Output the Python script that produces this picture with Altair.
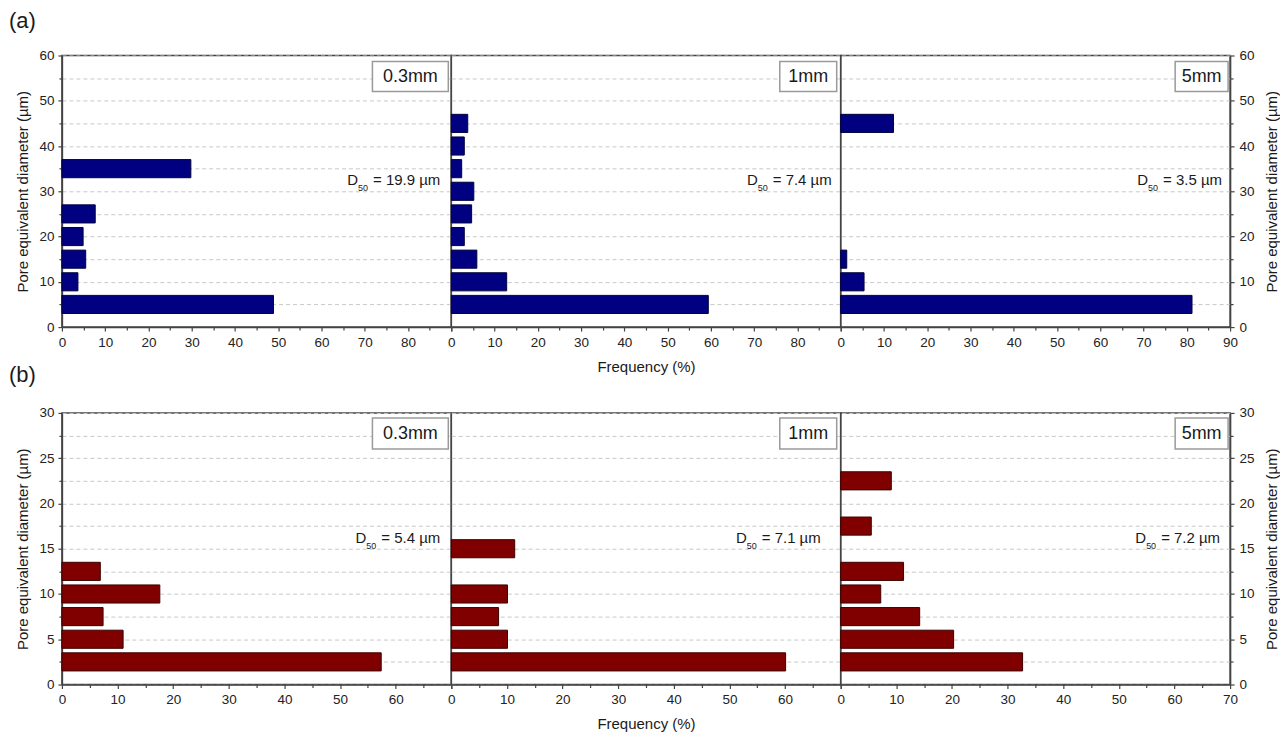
import altair as alt
import pandas as pd

# ---------------- data ----------------
panel_labels = ["0.3mm", "1mm", "5mm"]

# (a) top row: bins 5 µm wide
top_centers_03 = [5, 10, 15, 20, 25, 35]
top_freq_03 = [48.9, 3.7, 5.5, 4.9, 7.7, 29.8]
top_centers_1 = [5, 10, 15, 20, 25, 30, 35, 40, 45]
top_freq_1 = [59.4, 12.8, 5.9, 3.0, 4.7, 5.2, 2.4, 3.0, 3.8]
top_centers_5 = [5, 10, 15, 45]
top_freq_5 = [81.2, 5.4, 1.4, 12.2]
top_d50 = [19.9, 7.4, 3.5]

# (b) bottom row: bins 2.5 µm wide
bot_centers_03 = [2.5, 5, 7.5, 10, 12.5]
bot_freq_03 = [57.4, 11.0, 7.4, 17.6, 6.9]
bot_centers_1 = [2.5, 5, 7.5, 10, 15]
bot_freq_1 = [60.1, 10.1, 8.5, 10.1, 11.4]
bot_centers_5 = [2.5, 5, 7.5, 10, 12.5, 17.5, 22.5]
bot_freq_5 = [32.7, 20.3, 14.2, 7.2, 11.3, 5.5, 9.1]
bot_d50 = [5.4, 7.1, 7.2]

# ---------------- layout / style ----------------
FONT = "Liberation Sans"
PW, PH = 390, 272
AXC = "#444444"
TXT = "#1a1a1a"

# Arial / Liberation Sans advance widths (per 1000 em)
AW = {"D": 722, "=": 584, " ": 278, ".": 278, "µ": 576, "m": 833,
      "0": 556, "1": 556, "2": 556, "3": 556, "4": 556, "5": 556,
      "6": 556, "7": 556, "8": 556, "9": 556}


def tw(s, size):
    return sum(AW.get(c, 556) for c in s) / 1000.0 * size


BOX_X = [(311, 387), (329, 386), (335, 388)]
D50_RIGHT = {"top": [379, 381, 382], "bot": [379, 370, 380]}


def panel(centers, freqs, half, xmax, ymax, ystep, ymajor, idx, row,
          fill, stroke, d50, row_label=None, row_label_y=None):
    df = pd.DataFrame({"d": centers, "f": freqs})
    side = ["left", "none", "right"][idx]
    xlab_max = xmax if idx == 2 else xmax - 10
    tick_cond = {"condition": {"test": "datum.value % 10 === 0", "value": 4}, "value": 3}
    xaxis = alt.Axis(
        values=list(range(0, xmax + 1, 5)),
        labelExpr=f"(datum.value % 10 === 0 && datum.value <= {xlab_max}) ? datum.label : ''",
        tickSize=tick_cond, grid=False, labelPadding=4, labelFontSize=13.5,
        labelFlush=False, labelOverlap=False,
        title="Frequency (%)" if idx == 1 else None,
        titleFontSize=15, titleFontWeight="normal", titlePadding=11,
    )
    n = int(round(ymax / ystep))
    yvals = [round(i * ystep, 2) for i in range(n + 1)]
    ylab = f"datum.value % {ymajor} === 0 ? datum.label : ''"
    ycond = {"condition": {"test": f"datum.value % {ymajor} === 0", "value": 4}, "value": 3}
    ytitle = "Pore equivalent diameter (µm)"
    if side == "left":
        yaxis = alt.Axis(values=yvals, labelExpr=ylab, format="d", orient="left",
                         tickSize=ycond, grid=True, gridDash=[4, 3], gridColor="#c8c8c8",
                         labelFontSize=13.5, labelPadding=4, labelFlush=False,
                         labelOverlap=False, title=ytitle,
                         titleFontSize=15, titleFontWeight="normal", titlePadding=8)
    elif side == "right":
        yaxis = alt.Axis(values=yvals, labelExpr=ylab, format="d", orient="right",
                         tickSize=ycond, grid=True, gridDash=[4, 3], gridColor="#c8c8c8",
                         labelFontSize=13.5, labelPadding=5, labelFlush=False,
                         labelOverlap=False, title=ytitle, titleAngle=270,
                         titleBaseline="top",
                         titleFontSize=15, titleFontWeight="normal", titlePadding=10)
    else:
        yaxis = alt.Axis(values=yvals, labels=False, ticks=False, domain=False,
                         grid=True, gridDash=[4, 3], gridColor="#c8c8c8", title=None)

    bars = alt.Chart(df).transform_calculate(
        lo=f"datum.d - {half}", hi=f"datum.d + {half}", zero="0"
    ).mark_bar(fill=fill, stroke=stroke, strokeWidth=1).encode(
        x=alt.X("f:Q", scale=alt.Scale(domain=[0, xmax], nice=False), axis=xaxis),
        x2=alt.X2("zero:Q"),
        y=alt.Y("lo:Q", scale=alt.Scale(domain=[0, ymax], nice=False), axis=yaxis),
        y2=alt.Y2("hi:Q"),
    )

    bx0, bx1 = BOX_X[idx]
    by0, by1 = (6, 36) if row == "top" else (5, 36)
    lab = pd.DataFrame({"t": [panel_labels[idx]]})
    box = alt.Chart(lab).mark_rect(fill="white", stroke="#9a9a9a", strokeWidth=1.5).encode(
        x=alt.value(bx0), x2=alt.value(bx1), y=alt.value(by0), y2=alt.value(by1))
    box_txt = alt.Chart(lab).mark_text(font=FONT, fontSize=18, color=TXT,
                                       align="center", baseline="middle").encode(
        text="t:N", x=alt.value((bx0 + bx1) / 2), y=alt.value((by0 + by1) / 2 + 1))

    main = f"= {d50} µm"
    R = D50_RIGHT[row][idx]
    base = 130
    w_main = tw(main, 15)
    x_sub = R - w_main - 5
    x_D = x_sub - tw("50", 9)
    dd = pd.DataFrame({"main": [main], "sub": ["50"], "D": ["D"]})
    t_main = alt.Chart(dd).mark_text(font=FONT, fontSize=15, color=TXT, align="right",
                                     baseline="alphabetic").encode(
        text="main:N", x=alt.value(R), y=alt.value(base))
    t_sub = alt.Chart(dd).mark_text(font=FONT, fontSize=9, color=TXT, align="right",
                                    baseline="alphabetic").encode(
        text="sub:N", x=alt.value(x_sub), y=alt.value(base + 6))
    t_D = alt.Chart(dd).mark_text(font=FONT, fontSize=15, color=TXT, align="right",
                                  baseline="alphabetic").encode(
        text="D:N", x=alt.value(x_D), y=alt.value(base))

    layers = [bars, box, box_txt, t_main, t_sub, t_D]
    if row_label is not None:
        rl = pd.DataFrame({"t": [row_label]})
        layers.append(alt.Chart(rl).mark_text(font=FONT, fontSize=22, color=TXT,
                                              align="left", baseline="alphabetic").encode(
            text="t:N", x=alt.value(-53), y=alt.value(row_label_y)))
    return alt.layer(*layers).properties(width=PW, height=PH)


TOP_FILL, TOP_STROKE = "#000080", "#00003a"
BOT_FILL, BOT_STROKE = "#800000", "#3a0000"

panels = [
    panel(top_centers_03, top_freq_03, 2, 90, 60, 5, 10, 0, "top", TOP_FILL, TOP_STROKE,
          top_d50[0], "(a)", -28),
    panel(top_centers_1, top_freq_1, 2, 90, 60, 5, 10, 1, "top", TOP_FILL, TOP_STROKE, top_d50[1]),
    panel(top_centers_5, top_freq_5, 2, 90, 60, 5, 10, 2, "top", TOP_FILL, TOP_STROKE, top_d50[2]),
    panel(bot_centers_03, bot_freq_03, 1, 70, 30, 2.5, 5, 0, "bot", BOT_FILL, BOT_STROKE,
          bot_d50[0], "(b)", -31),
    panel(bot_centers_1, bot_freq_1, 1, 70, 30, 2.5, 5, 1, "bot", BOT_FILL, BOT_STROKE, bot_d50[1]),
    panel(bot_centers_5, bot_freq_5, 1, 70, 30, 2.5, 5, 2, "bot", BOT_FILL, BOT_STROKE, bot_d50[2]),
]

chart = alt.concat(*panels, columns=3, spacing={"row": 86, "column": 0},
                   bounds="flush").properties(
    padding={"left": 0, "top": 0, "right": 0, "bottom": 0},
).configure(font=FONT).configure_view(
    stroke=AXC, strokeWidth=1.5
).configure_axis(
    domainColor=AXC, domainWidth=1.5, tickColor=AXC, tickWidth=1.2,
    labelColor="#222222", titleColor=TXT, labelFont=FONT, titleFont=FONT,
)

chart.save("out.html", embed_options={"renderer": "svg", "actions": False})
